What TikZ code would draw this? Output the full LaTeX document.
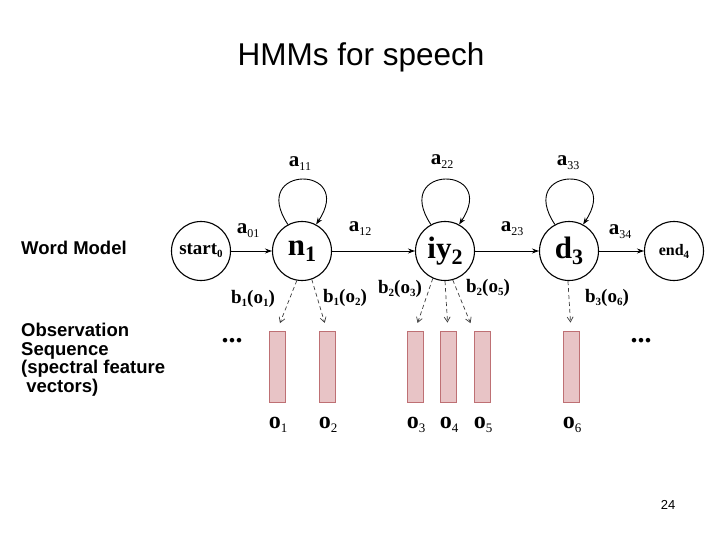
\documentclass[tikz,border=0pt]{standalone}
\usepackage{fontspec}
\setmainfont{Liberation Serif}
\newfontfamily\arialfont{Liberation Sans}
\usetikzlibrary{arrows.meta,positioning}
\definecolor{obsfill}{RGB}{232,196,198}
\definecolor{obsline}{RGB}{190,112,116}
\definecolor{dashgray}{RGB}{60,60,60}
\newcommand\fs[1]{\fontsize{#1}{#1}\selectfont}
\newcommand\stlab[2]{{\fs{31}\bfseries #1}{\fs{22}\bfseries\raisebox{-6pt}{#2}}}
\newcommand\termlab[3]{{\fs{#3}\bfseries #1\raisebox{-3pt}{\fs{11}#2}}}
\newcommand\alab[1]{{\fs{21}\bfseries a}\raisebox{-4pt}{\fs{12}#1}}
\newcommand\blab[2]{{\fs{19}\bfseries b\raisebox{-3pt}{\fs{11}#1}(o\raisebox{-3pt}{\fs{11}#2})}}
\newcommand\olab[1]{{\fs{24}\bfseries o}\raisebox{-4pt}{\fs{13}#1}}
\tikzset{
  state/.style={circle,draw,line width=1.1pt,minimum size=59pt,inner sep=0pt},
  tr/.style={-{Stealth[length=7pt,width=5pt]},line width=0.9pt},
  emit/.style={-{Straight Barb[length=5pt,width=6pt]},dash pattern=on 4pt off 3pt,draw=dashgray,line width=0.7pt,shorten >=8pt},
  obs/.style={draw=obsline,fill=obsfill,line width=0.9pt,minimum width=16pt,minimum height=71pt,inner sep=0pt},
  side/.style={font=\arialfont\bfseries\fs{18.5},align=left,inner sep=0pt}
}
\begin{document}
\begin{tikzpicture}[x=1pt,y=-1pt]
  \fill[white] (0,0) rectangle (720,540);
  \useasboundingbox (0,0) rectangle (720,540);
  \node[font=\arialfont\fs{31.5}] (title) at (361,57) {HMMs for speech};

  % word model
  \node[state] (st0) at (201,251) {\termlab{start}{0}{19}};
  \node[state] (n1) at (302,251) {\stlab{n}{1}};
  \node[state] (iy2) at (445,251) {\stlab{iy}{2}};
  \node[state] (d3) at (569,251) {\stlab{d}{3}};
  \node[state] (en4) at (674,251) {\termlab{end}{4}{16}};
  \draw[tr] (st0) -- (n1);
  \draw[tr] (n1) -- (iy2);
  \draw[tr] (iy2) -- (d3);
  \draw[tr] (d3) -- (en4);
  \foreach \s in {n1,iy2,d3}{\draw[tr] (\s.118) .. controls +(-40,-60) and +(40,-60) .. (\s.62);}
  \node (a01) at (248,231) {\alab{01}};
  \node (a12) at (360,229) {\alab{12}};
  \node (a23) at (512,229) {\alab{23}};
  \node (a34) at (620,232) {\alab{34}};
  \node (a11) at (300,164) {\alab{11}};
  \node (a22) at (442,162) {\alab{22}};
  \node (a33) at (568,163) {\alab{33}};

  % observation sequence
  \foreach \i/\x in {1/277,2/327,3/415,4/448,5/482,6/571}{
    \node[obs] (r\i) at (\x,366.5) {};
    \node (o\i) at (\x+1,425) {\olab{\i}};
  }
  \draw[emit] (n1.-100) -- (r1.north);
  \draw[emit] (n1.-71) -- (r2.north);
  \draw[emit] (iy2.-114) -- (r3.north);
  \draw[emit] (iy2.-90) -- (r4.north);
  \draw[emit] (iy2.-75) -- (r5.north west);
  \draw[emit] (d3.-92) -- (r6.north);
  \node (b11) at (253,299) {\blab{1}{1}};
  \node (b12) at (345,298) {\blab{1}{2}};
  \node (b23) at (400,289) {\blab{2}{3}};
  \node (b25) at (488,288) {\blab{2}{5}};
  \node (b36) at (607,298) {\blab{3}{6}};
  \node[font=\fs{28}\bfseries] (dl) at (232,341) {...};
  \node[font=\fs{28}\bfseries] (dr) at (641,341) {...};

  \node[side,anchor=west] (wm) at (21,248) {Word Model};
  \node[side,anchor=north west] (os) at (21,323) {Observation\\Sequence\\(spectral feature\\\ vectors)};
  \node[font=\arialfont\fs{13}] (pg) at (668,505) {24};
\end{tikzpicture}
\end{document}
